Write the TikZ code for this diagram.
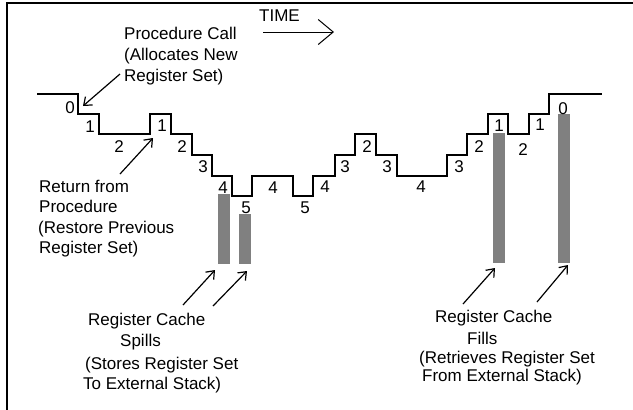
\documentclass[tikz,border=0pt]{standalone}
\usepackage{fontspec}
\setmainfont{Liberation Sans}
\usetikzlibrary{arrows.meta}
\begin{document}
\begin{tikzpicture}[x=1pt,y=-1pt,
  txt/.style={anchor=base west,inner sep=0pt,font=\fontsize{17}{20}\selectfont},
  num/.style={anchor=center,inner sep=0pt,font=\fontsize{17}{20}\selectfont},
  stair/.style={line width=2pt,line join=miter},
  bar/.style={fill=black!50,draw=none},
  ann/.style={line width=1.2pt,-{Straight Barb[length=7pt,width=11pt,line width=1.2pt]}},
  timearr/.style={line width=1pt,-{Straight Barb[length=15pt,width=25pt,line width=1pt]}}]
\useasboundingbox (0,0) rectangle (633,410);
\fill[white] (0,0) rectangle (633,410);
% frame (top and left only)
\draw[line width=2pt] (7,410) -- (7,3) -- (633,3);
% gray bars
\fill[bar] (218,194) rectangle (230,264);
\fill[bar] (239,214) rectangle (251,264);
\fill[bar] (493,133) rectangle (505,263);
\fill[bar] (558,114) rectangle (570,263);
% staircase
\draw[stair] (37,94) -- (78,94) -- (78,114) -- (99,114) -- (99,134) -- (150,134) -- (150,114)
  -- (171,114) -- (171,134) -- (192,134) -- (192,155) -- (212,155) -- (212,176) -- (232,176)
  -- (232,196) -- (252,196) -- (252,176) -- (293,176) -- (293,196) -- (313,196) -- (313,176)
  -- (335,176) -- (335,155) -- (355,155) -- (355,134) -- (376,134) -- (376,155) -- (397,155)
  -- (397,176) -- (447,176) -- (447,155) -- (467,155) -- (467,134) -- (488,134) -- (488,114)
  -- (508,114) -- (508,134) -- (529,134) -- (529,114) -- (549,114) -- (549,94) -- (602,94);
% level numbers
\node[num] (n1) at (70,108) {0};
\node[num] (n2) at (90,127) {1};
\node[num] (n3) at (119,147) {2};
\node[num] (n4) at (162,126) {1};
\node[num] (n5) at (182,147) {2};
\node[num] (n6) at (203,167) {3};
\node[num] (n7) at (223,188) {4};
\node[num] (n8) at (246,208) {5};
\node[num] (n9) at (273,188) {4};
\node[num] (n10) at (305,208) {5};
\node[num] (n11) at (325,187) {4};
\node[num] (n12) at (345,167) {3};
\node[num] (n13) at (367,147) {2};
\node[num] (n14) at (387,167) {3};
\node[num] (n15) at (421,187) {4};
\node[num] (n16) at (459,167) {3};
\node[num] (n17) at (479,147) {2};
\node[num] (n18) at (499,126) {1};
\node[num] (n19) at (523,150) {2};
\node[num] (n20) at (540,125) {1};
\node[num] (n21) at (563,109) {0};
% TIME
\node[txt] (time) at (259,21) {TIME};
\coordinate (t1) at (263,32);
\coordinate (t2) at (334,32);
\draw[timearr] (t1) -- (t2);
% Procedure call
\node[txt] (pc1) at (124,39) {Procedure Call};
\node[txt] (pc2) at (124,60) {(Allocates New};
\node[txt] (pc3) at (124,81) {Register Set)};
\coordinate (pca) at (120,74);
\coordinate (pcb) at (83,106);
\draw[ann] (pca) -- (pcb);
% Return
\node[txt] (r1) at (39,192) {Return from};
\node[txt] (r2) at (39,212) {Procedure};
\node[txt] (r3) at (38,233) {(Restore Previous};
\node[txt] (r4) at (39,253) {Register Set)};
\coordinate (ra) at (120,174);
\coordinate (rb) at (153,138);
\draw[ann] (ra) -- (rb);
% spills
\node[txt] (s1) at (88,325) {Register Cache};
\node[txt] (s2) at (120,346) {Spills};
\node[txt] (s3) at (85,369) {(Stores Register Set};
\node[txt] (s4) at (83,389) {To External Stack)};
\coordinate (sa1) at (183,305);
\coordinate (sb1) at (215,270);
\coordinate (sa2) at (213,306);
\coordinate (sb2) at (247,271);
\draw[ann] (sa1) -- (sb1);
\draw[ann] (sa2) -- (sb2);
% fills
\node[txt] (f1) at (435,322) {Register Cache};
\node[txt] (f2) at (467,344) {Fills};
\node[txt] (f3) at (419,363) {(Retrieves Register Set};
\node[txt] (f4) at (422,381) {From External Stack)};
\coordinate (fa1) at (463,304);
\coordinate (fb1) at (495,268);
\coordinate (fa2) at (537,302);
\coordinate (fb2) at (568,265);
\draw[ann] (fa1) -- (fb1);
\draw[ann] (fa2) -- (fb2);
\end{tikzpicture}
\end{document}
